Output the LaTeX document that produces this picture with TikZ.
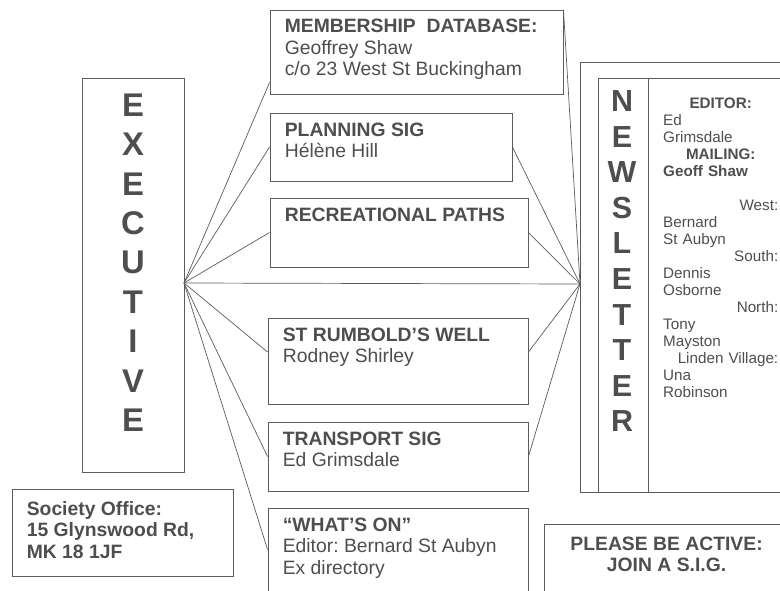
\documentclass[tikz,border=0pt]{standalone}
\usepackage{fontspec}
\setmainfont{Liberation Sans}
\usetikzlibrary{positioning,calc,fit}
\usepackage{xcolor}
\definecolor{inkgray}{RGB}{78,78,78}
\definecolor{linegray}{RGB}{92,92,92}
\frenchspacing

\begin{document}
\begin{tikzpicture}[x=0.03cm, y=-0.03cm]

\tikzstyle{frame} = [draw=linegray, line width=0.75pt, inner sep=0pt];
\tikzstyle{entry} = [anchor=north west, inner sep=0pt, align=left, text=inkgray, font=\fontsize{16.5}{18.3}\selectfont];
\tikzstyle{bigletter} = [inner sep=0pt, text=inkgray, font=\fontsize{28}{30}\selectfont\bfseries];
\tikzstyle{wire} = [draw=linegray, line width=0.6pt];

\useasboundingbox (0,0) rectangle (780,591);
\clip (0,0) rectangle (780,591);

% Executive column
\node (exec) [frame, fit={(82,78) (184,472)}] {};
\foreach \ch [count=\i] in {E,X,E,C,U,T,I,V,E}
  \node (exec-\i) [bigletter] at (133,{105+(\i-1)*39.4}) {\ch};

% Middle column - groups
\node (memb) [frame, fit={(270,10) (563,94)}] {};
\node (membtxt) [entry, below right=2.8mm and 4.5mm of memb.north west] {\textbf{MEMBERSHIP\ \ DATABASE:}\\Geoffrey Shaw\\c/o 23 West St Buckingham};

\node (plan) [frame, fit={(270,113) (512,181)}] {};
\node (plantxt) [entry, below right=3mm and 4.5mm of plan.north west] {\textbf{PLANNING SIG}\\Hélène Hill};

\node (recr) [frame, fit={(270,198) (528,267)}] {};
\node (recrtxt) [entry, below right=3mm and 4.5mm of recr.north west] {\textbf{RECREATIONAL PATHS}};

\node (rumb) [frame, fit={(268,318) (528,404)}] {};
\node (rumbtxt) [entry, below right=3mm and 4.5mm of rumb.north west] {\textbf{ST RUMBOLD’S WELL}\\Rodney Shirley};

\node (trans) [frame, fit={(268,422) (528,491)}] {};
\node (transtxt) [entry, below right=3mm and 4.5mm of trans.north west] {\textbf{TRANSPORT SIG}\\Ed Grimsdale};

\node (whats) [frame, fit={(268,508) (528,620)}] {};
\node (whatstxt) [entry, below right=3mm and 4.5mm of whats.north west] {\textbf{“WHAT’S ON”}\\Editor: Bernard St Aubyn\\Ex directory};

% Office address
\node (office) [frame, fit={(12,489) (233,576)}] {};
\node (officetxt) [entry, below right=3.7mm and 4.5mm of office.north west] {\textbf{Society Office:}\\\textbf{15 Glynswood Rd,}\\\textbf{MK 18 1JF}};

% Newsletter block
\node (news) [frame, fit={(580,62) (800,492)}] {};
\node (newsspine) [frame, fit={(598,78) (648,492)}] {};
\node (newsbody) [frame, fit={(648,78) (800,492)}] {};
\foreach \ch [count=\i] in {N,E,W,S,L,E,T,T,E,R}
  \node (news-\i) [bigletter, font=\fontsize{26}{28}\selectfont\bfseries] at (622,{101+(\i-1)*35.6}) {\ch};
\node (newstxt) [entry, text width=3.45cm, font=\fontsize{13}{14.5}\selectfont] at (663,97.5) {%
\hspace*{\fill}\textbf{EDITOR:}\hspace*{\fill}\null\\
Ed\\
Grimsdale\\
\hspace*{\fill}\textbf{MAILING:}\hspace*{\fill}\null\\
\textbf{Geoff Shaw}\\
\mbox{}\\
\hspace*{\fill}West:\\
Bernard\\
St Aubyn\\
\hspace*{\fill}South:\\
Dennis\\
Osborne\\
\hspace*{\fill}North:\\
Tony\\
Mayston\\
\hspace*{\fill}Linden Village:\\
Una\\
Robinson};

% Call to action
\node (active) [frame, fit={(544,524) (800,620)}] {};
\node (activetxt) [entry, anchor=north, align=center, below=3.9mm of active.north west, xshift=3.69cm] {\textbf{PLEASE BE ACTIVE:}\\\textbf{JOIN A S.I.G.}};

% Links
\coordinate (exechub) at (184,283);
\coordinate (newshub) at (580,284);
\draw[wire] (exechub) -- ([yshift=3.6mm]memb.south west);
\draw[wire] (exechub) -- (plan.west);
\draw[wire] (exechub) -- (recr.west);
\draw[wire] (exechub) -- (newshub);
\draw[wire] (exechub) -- ([yshift=2.7mm]rumb.west);
\draw[wire] (exechub) -- (trans.west);
\draw[wire] (exechub) -- ([yshift=-12.6mm]whats.north west);
\draw[wire] (newshub) -- (memb.north east);
\draw[wire] (newshub) -- (plan.east);
\draw[wire] (newshub) -- (recr.east);
\draw[wire] (newshub) -- ([yshift=2.7mm]rumb.east);
\draw[wire] (newshub) -- (trans.east);

\end{tikzpicture}
\end{document}
